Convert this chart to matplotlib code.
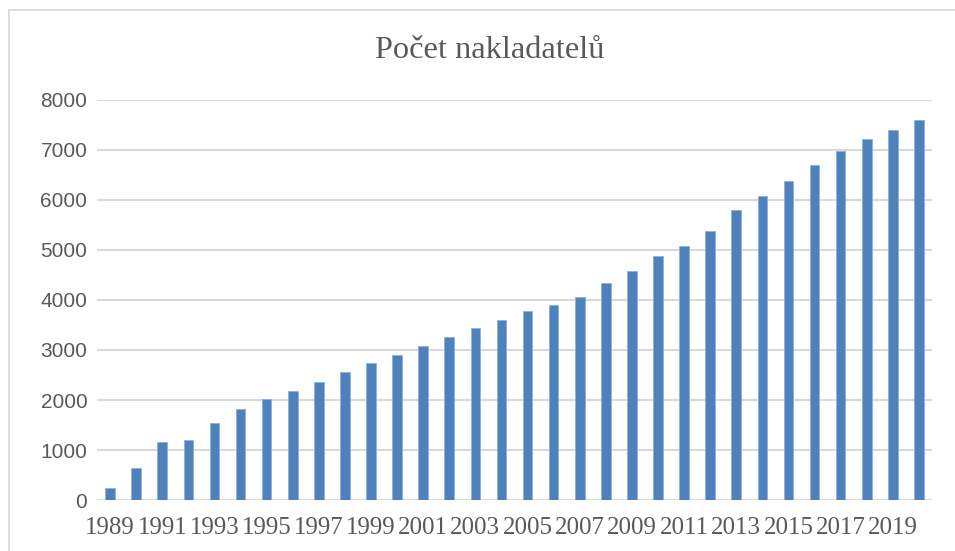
import matplotlib
matplotlib.use("Agg")
import matplotlib.pyplot as plt
from matplotlib.patches import Rectangle

years = list(range(1989, 2021))
values = [240, 647, 1153, 1200, 1547, 1813, 2013, 2180, 2367, 2553, 2740, 2893,
          3073, 3267, 3440, 3610, 3773, 3907, 4067, 4340, 4573, 4873, 5073, 5380,
          5793, 6087, 6387, 6707, 6980, 7213, 7407, 7600]
yticks = [0, 1000, 2000, 3000, 4000, 5000, 6000, 7000, 8000]
xlabels = [str(y) for y in years[::2]]
title = "Počet nakladatelů"

W, H = 955, 551
fig = plt.figure(figsize=(W / 100, H / 100), dpi=100)
fig.patch.set_facecolor("white")

# outer chart border
fig.patches.append(Rectangle((8.5 / W, -0.1), 1.2, 1 - 10 / H + 0.1,
                             transform=fig.transFigure, fill=False,
                             edgecolor="#D9D9D9", linewidth=1.3))

ax = fig.add_axes([97 / W, 1 - 500 / H, (932 - 97) / W, (500 - 100) / H])
x = list(range(len(years)))
ax.bar(x, values, width=0.37, color="#4F81BD", edgecolor="#8EB0DA", linewidth=0.6, zorder=3)

ax.set_xlim(-0.5, len(years) - 0.5)
ax.set_ylim(0, 8000)
ax.set_yticks(yticks)
ax.set_yticklabels([str(v) for v in yticks], family="Liberation Sans", fontsize=15, color="#595959")
ax.set_xticks(x[::2])
ax.set_xticklabels(xlabels, family="Liberation Serif", fontsize=18, color="#595959")
ax.tick_params(axis="both", length=0)
ax.tick_params(axis="y", pad=7)
ax.tick_params(axis="x", pad=12)
ax.grid(axis="y", color="#D9D9D9", linewidth=1.5, zorder=0)
for s in ax.spines.values():
    s.set_visible(False)

fig.text(490 / W, 1 - 50 / H, title, ha="center", va="center",
         family="Liberation Serif", fontsize=23.3, color="#595959")

fig.savefig("out.png", dpi=100)
